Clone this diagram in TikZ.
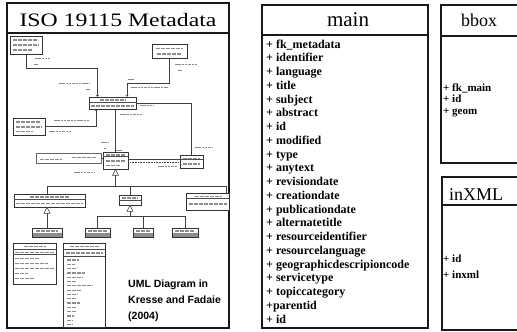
\documentclass[tikz,border=0pt]{standalone}
\usepackage{fontspec}
\setmainfont{Liberation Serif}
\newfontfamily\notesans{Liberation Sans}
\usetikzlibrary{arrows.meta}

% a short grey bar standing in for unreadable small print
\newcommand\txtbar[3]{\draw[scrib] (#1,#3) -- (#2,#3);}
\newcommand\lblbar[3]{\draw[lblscrib] (#1,#3) -- (#2,#3);}
% compartment line of a small class box, #2 pt below its top
\newcommand\compsep[2]{\draw[sepline] ([yshift=-#2pt]#1.north west) -- ([yshift=-#2pt]#1.north east);}

\begin{document}
\begin{tikzpicture}[x=1pt,y=-1pt,
  panel/.style={draw=black!90, line width=1.2pt},
  uml/.style={draw=black!80, line width=0.6pt, inner sep=0pt, fill=white},
  shaded/.style={uml, path picture={\fill[black!45] ([yshift=4pt]path picture bounding box.south west) rectangle (path picture bounding box.south east);}},
  link/.style={draw=black!75, line width=0.6pt},
  sepline/.style={draw=black!70, line width=0.5pt},
  scrib/.style={draw=black!45, line width=1.2pt, dash pattern=on 4pt off 1pt},
  lblscrib/.style={draw=black!45, line width=0.9pt, dash pattern=on 2.5pt off 0.8pt},
  tip/.style={-{To[length=2pt,width=3pt]}},
  heading/.style={anchor=base, inner sep=0pt},
  field/.style={anchor=base west, inner sep=0pt, font=\bfseries\fontsize{12}{13}\selectfont},
  sidefield/.style={anchor=base west, inner sep=0pt, font=\bfseries\fontsize{11}{12}\selectfont},
  note/.style={anchor=base west, inner sep=0pt, font=\notesans\bfseries\fontsize{10.5}{12}\selectfont}]
\useasboundingbox (0,0) rectangle (517,332);
\fill[white] (0,0) rectangle (517,332);

% ---------- panel frames ----------
\draw[panel] (7,3) rectangle (229,328);
\draw[panel] (7,33) -- (229,33);
\draw[panel] (262,5) rectangle (428,328);
\draw[panel] (262,35) -- (428,35);
\draw[panel] (522,5) -- (441,5) -- (441,163) -- (522,163);
\draw[panel] (441,36) -- (522,36);
\draw[panel] (522,177) -- (442,177) -- (442,330) -- (522,330);
\draw[panel] (442,205) -- (522,205);

% ---------- headings ----------
\node[heading, font=\fontsize{19}{20}\selectfont] (tmeta) at (118,27) {\scalebox{1.25}[1]{ISO 19115 Metadata}};
\node[heading, font=\fontsize{21}{22}\selectfont] (tmain) at (348,27) {main};
\node[heading, font=\fontsize{18}{20}\selectfont] (tbbox) at (479,27) {bbox};
\node[heading, font=\fontsize{18}{20}\selectfont] (tinxml) at (476,200) {inXML};

% ---------- table columns ----------
\foreach \t [count=\i] in {+ fk\_metadata, + identifier, + language, + title, + subject,
    + abstract, + id, + modified, + type, + anytext, + revisiondate, + creationdate,
    + publicationdate, + alternatetitle, + resourceidentifier, + resourcelanguage,
    + geographicdescripioncode, + servicetype, + topiccategory, +parentid, + id}
  \node[field] (main\i) at (266,{48+13.75*(\i-1)}) {\t};

\node[sidefield] (bb1) at (443,91) {+ fk\_main};
\node[sidefield] (bb2) at (443,102.8) {+ id};
\node[sidefield] (bb3) at (443,114.6) {+ geom};

\node[sidefield] (ix1) at (443,262.5) {+ id};
\node[sidefield] (ix2) at (443,278.5) {+ inxml};

% ---------- small class diagram ----------
\node[uml, minimum width=32pt, minimum height=18pt] (A) at (26,45) {};
\node[uml, minimum width=35pt, minimum height=14pt] (B) at (169.5,51) {};
\node[uml, minimum width=47pt, minimum height=12pt] (C) at (112.5,103) {};
\node[uml, minimum width=32pt, minimum height=17pt] (D) at (29,126.5) {};
\node[uml, minimum width=25pt, minimum height=17pt] (E) at (115.5,160.5) {};
\node[uml, draw=black!60, line width=0.4pt, minimum width=65pt, minimum height=10pt] (F) at (68.5,158) {};
\node[uml, minimum width=23pt, minimum height=13pt] (G) at (191.5,161.5) {};
\node[uml, minimum width=71pt, minimum height=13pt] (H) at (49.5,200.5) {};
\node[uml, minimum width=22pt, minimum height=10pt] (I) at (130,200) {};
\node[uml, minimum width=43pt, minimum height=17pt] (J) at (207.5,201.5) {};
\node[shaded, minimum width=30pt, minimum height=9pt] (K) at (47,232.5) {};
\node[shaded, minimum width=25pt, minimum height=9pt] (L) at (97.5,232.5) {};
\node[shaded, minimum width=20pt, minimum height=9pt] (M) at (143,232.5) {};
\node[shaded, minimum width=26pt, minimum height=9pt] (N) at (185,232.5) {};
\node[uml, minimum width=43pt, minimum height=41pt] (O) at (34.5,263.5) {};
\node[uml, minimum width=42pt, minimum height=84pt] (P) at (84,285) {};

% associations
\draw[link, tip] (A.south) -- ++(0,14) -| ([xshift=-15pt]C.north);
\draw[link, tip] (B.south) -- ++(0,25) -| ([xshift=14.5pt]C.north);
\draw[link, tip] (D.east) -| ([xshift=-16.5pt]C.south);
\draw[link] (C.south -| E.north) -- (E.north);
\draw[link] (C.east) -| (G.north);
\draw[link] ([yshift=1.5pt]E.east) -- ([yshift=1.5pt]E.east -| G.west);
\draw[link, densely dotted, line width=0.8pt] ([yshift=-2pt]E.east) -- ([yshift=-2pt]E.east -| G.west);
\draw[link] (F.east) -- (F.east -| E.west);

% generalisations
\draw[link, fill=white] (E.south) -- ++(-3,6) -- ++(6,0) -- cycle;
\draw[link] (E.south) ++(0,6) -- ++(0,11) coordinate (bus1);
\draw[link] ([xshift=-2.5pt]H.north) |- (bus1) -| ([xshift=19pt]J.north);
\draw[link] (I.north) -- (I.north |- bus1);

\draw[link, fill=white] (H.south -| K.north) -- ++(-3,6) -- ++(6,0) -- cycle;
\draw[link] (H.south -| K.north) ++(0,6) -- (K.north);

\draw[link, fill=white] (I.south) -- ++(-3,6) -- ++(6,0) -- cycle;
\draw[link] (I.south) ++(0,6) -- ++(0,5) coordinate (bus2);
\draw[link] (L.north) |- (bus2) -| (N.north);
\draw[link] (M.north) -- (M.north |- bus2);

% compartments
\compsep{C}{5.5}
\compsep{E}{5}
\compsep{G}{5}
\compsep{H}{5.5}
\compsep{I}{6}
\compsep{J}{6}
\compsep{O}{6.5}
\compsep{O}{12}
\compsep{P}{7}
\compsep{P}{13.5}

% small print inside the class boxes
\txtbar{13}{38}{40} \txtbar{13}{39}{45} \txtbar{13}{33}{50}
\txtbar{156}{183}{48.5} \txtbar{157}{181}{54}
\txtbar{100}{126}{100} \txtbar{91}{134}{106}
\txtbar{16}{40}{122} \txtbar{16}{42}{127} \txtbar{16}{33}{131.5}
\txtbar{106}{125}{155} \txtbar{106}{125}{161} \txtbar{106}{120}{165.5}
\txtbar{40}{62}{159.5} \txtbar{72}{97}{157.5}
\txtbar{183}{200}{158.5} \txtbar{183}{200}{164}
\txtbar{30}{70}{197} \txtbar{16}{83}{203.5}
\txtbar{122}{138}{198}
\txtbar{195}{222}{196.5} \txtbar{189}{227}{204}
\txtbar{36}{58}{231} \txtbar{88}{107}{231} \txtbar{136}{150}{231} \txtbar{175}{195}{231}
\txtbar{24}{46}{246.5} \txtbar{15}{54}{252.5}
\txtbar{15}{40}{258.5} \txtbar{15}{48}{263.5} \txtbar{15}{54}{268.5} \txtbar{15}{28}{273.5} \txtbar{15}{35}{278.5}
\txtbar{70}{99}{246.5} \txtbar{66}{103}{253}
\foreach \w [count=\i] in {12,8,10,18,16,9,26,14,11,10,13,9,9,7,6,6}
  \draw[scrib] (67,{260+4.3*(\i-1)}) -- ++(\w,0);

% role names and multiplicities
\lblbar{35}{50}{58.5} \lblbar{34}{38}{64.5}
\lblbar{59}{90}{83} \lblbar{86}{90}{89}
\lblbar{54}{89}{120} \lblbar{49}{72}{131}
\lblbar{175}{198}{64} \lblbar{178}{182}{70}
\lblbar{131}{168}{87} \lblbar{128}{134}{79}
\lblbar{140}{154}{105}
\lblbar{120}{143}{114}
\lblbar{195}{212}{147}
\lblbar{101}{108}{142} \lblbar{104}{106}{148} \lblbar{116}{122}{150}
\lblbar{74}{94}{172}
\lblbar{158}{177}{166}

% caption
\node[note] (cap1) at (128,287) {UML Diagram in};
\node[note] (cap2) at (128,303) {Kresse and Fadaie};
\node[note] (cap3) at (128,319) {(2004)};
\end{tikzpicture}
\end{document}
